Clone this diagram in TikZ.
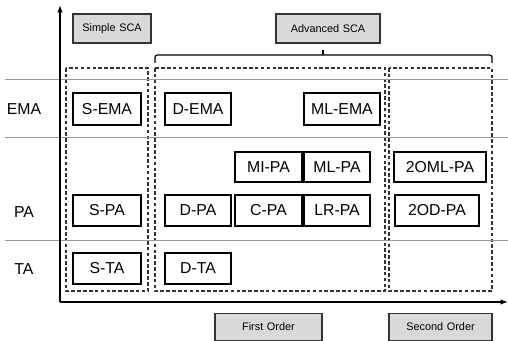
\documentclass[tikz,border=0pt]{standalone}
\usepackage{fontspec}
\setmainfont{Liberation Sans}
\usetikzlibrary{arrows.meta}
\tikzset{
  sca/.style={draw, line width=1.1pt, rectangle, inner sep=0pt},
  tag/.style={draw=black!80, line width=1.1pt, fill=black!15, inner sep=0pt, font=\fontsize{9.3}{10}\selectfont},
  grp/.style={draw=black!80, line width=0.9pt, dash pattern=on 3pt off 2pt},
  lvl/.style={draw=black!40, line width=0.6pt}
}
\begin{document}
\begin{tikzpicture}[x=0.03cm, y=-0.03cm, font=\fontsize{13.5}{15}\selectfont]
\useasboundingbox (0,0) rectangle (508,341);
% groups
\draw[grp] (66,68) rectangle (148,291);
\draw[grp] (155,68) rectangle (385,291);
\draw[grp] (389,68) rectangle (492,291);
% level lines
\draw[lvl] (5,79) -- (508,79);
\draw[lvl] (5,137) -- (508,137);
\draw[lvl] (5,240) -- (508,240);
\path node (EMA) at (24,109) {EMA}
node (PA) at (24,212) {PA}
node (TA) at (24,269) {TA}
node[tag, text width=2.34cm, align=center, minimum height=0.87cm] (simple) at (112,28.5) {Simple SCA}
node[tag, text width=3.12cm, align=center, minimum height=0.87cm] (advanced) at (328,28.5) {Advanced SCA}
node[tag, text width=3.21cm, align=center, minimum height=0.81cm] (first) at (268.5,327) {First Order}
node[tag, text width=3.09cm, align=center, minimum height=0.81cm] (second) at (440.5,327) {Second Order}
node[sca, minimum width=2.04cm, minimum height=0.96cm] (SEMA) at (107,109) {S-EMA}
node[sca, minimum width=1.98cm, minimum height=0.96cm] (DEMA) at (198,109) {D-EMA}
node[sca, minimum width=2.28cm, minimum height=0.96cm] (MLEMA) at (342,109) {ML-EMA}
node[sca, minimum width=2.01cm, minimum height=0.9cm] (MIPA) at (268.5,167) {MI-PA}
node[sca, minimum width=1.98cm, minimum height=0.9cm] (MLPA) at (337,167) {ML-PA}
node[sca, minimum width=2.76cm, minimum height=0.9cm] (OMLPA) at (440,167) {2OML-PA}
node[sca, minimum width=2.04cm, minimum height=0.93cm] (SPA) at (107,210.5) {S-PA}
node[sca, minimum width=1.98cm, minimum height=0.93cm] (DPA) at (198,210.5) {D-PA}
node[sca, minimum width=2.01cm, minimum height=0.93cm] (CPA) at (268.5,210.5) {C-PA}
node[sca, minimum width=1.98cm, minimum height=0.93cm] (LRPA) at (337,210.5) {LR-PA}
node[sca, minimum width=2.52cm, minimum height=0.93cm] (ODPA) at (437,210.5) {2OD-PA}
node[sca, minimum width=2.04cm, minimum height=0.93cm] (STA) at (107,268.5) {S-TA}
node[sca, minimum width=1.98cm, minimum height=0.93cm] (DTA) at (198,268.5) {D-TA}
;
% axes
\coordinate (O) at (60,302);
\coordinate (Y) at (60,5);
\coordinate (X) at (508,302);
\draw[line width=1.1pt, -{Latex[length=2.2mm,width=1.6mm]}] (O) -- (Y);
\draw[line width=1.1pt, -{Latex[length=2.2mm,width=1.6mm]}] (O) -- (X);
% brace
\coordinate (tick) at (323,50);
\draw[line width=1.1pt, rounded corners=2pt] (155,63) -- (155,55) -- (492,55) -- (492,63);
\draw[line width=1.1pt] (tick) -- (323,55);
\end{tikzpicture}
\end{document}
